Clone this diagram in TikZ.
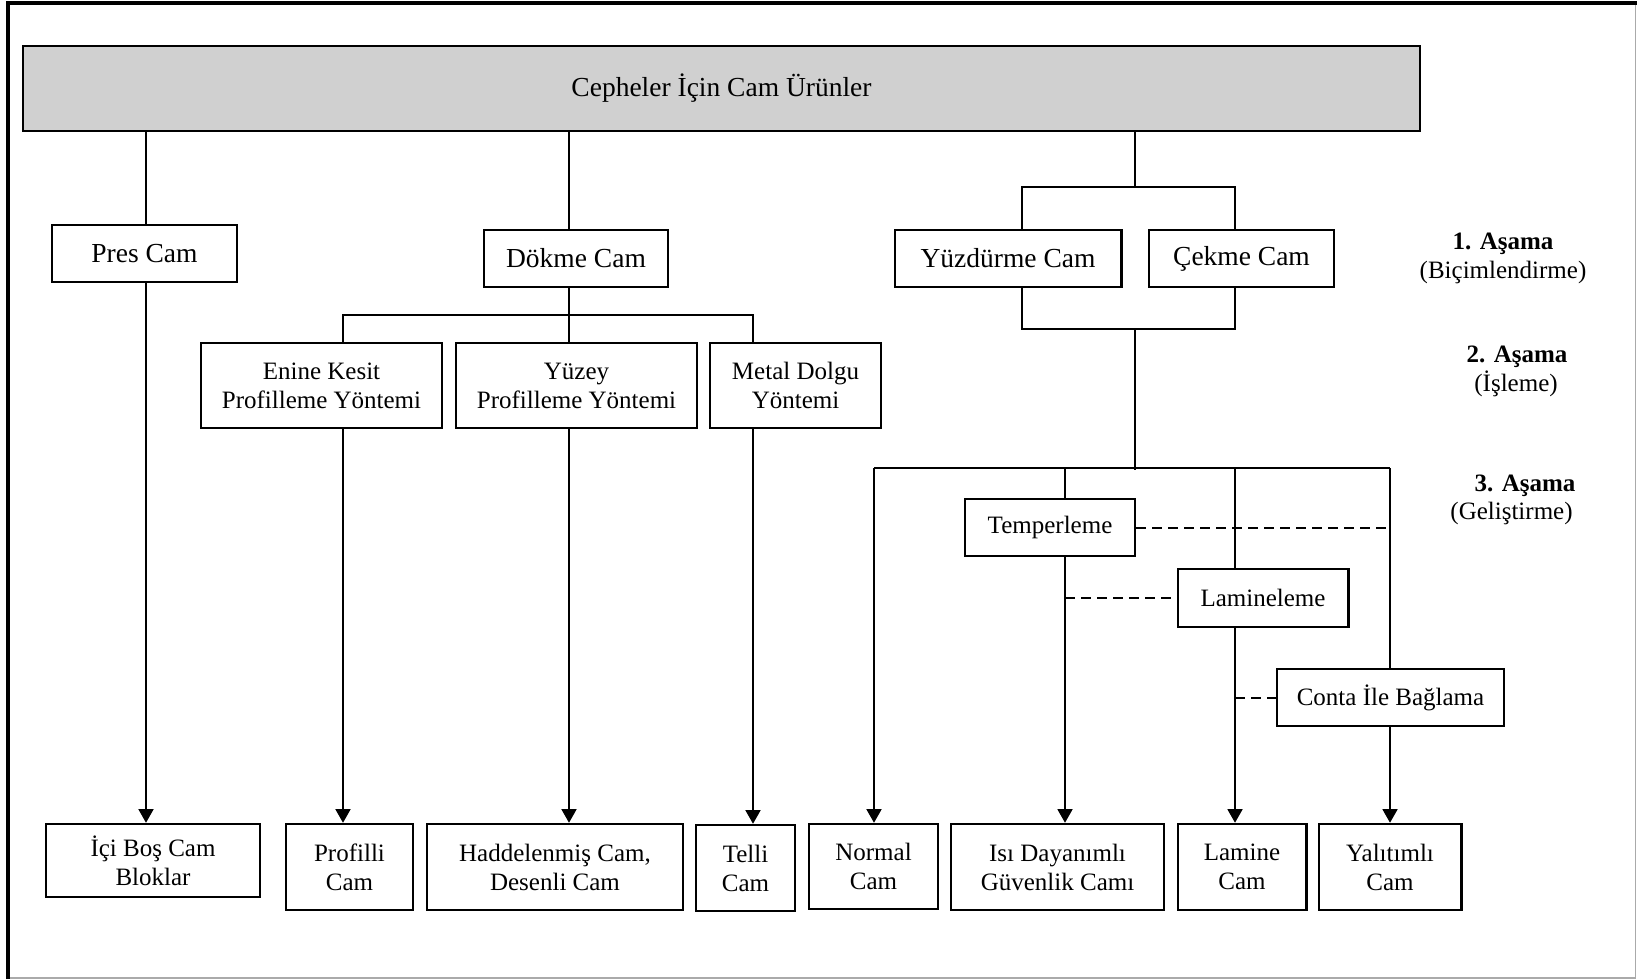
\documentclass[tikz,border=0pt]{standalone}
\usepackage{fontspec}
\setmainfont{Liberation Serif}
\usetikzlibrary{arrows.meta}
\definecolor{titlegray}{RGB}{208,208,208}
\definecolor{framegray}{RGB}{170,170,170}
\newcommand\bigtxt{\fontsize{13.75}{16}\selectfont}
\newcommand\smalltxt{\fontsize{12.5}{14.5}\selectfont}
\begin{document}
\begin{tikzpicture}[x=0.5pt,y=-0.5pt,
  box/.style={draw, line width=1.25pt, inner sep=0pt, align=center, font=\smalltxt},
  bigbox/.style={box, font=\bigtxt},
  conn/.style={line width=0.8pt},
  arr/.style={conn, -{Triangle[length=6.8pt,width=7.5pt]}},
  dsh/.style={line width=1pt, dash pattern=on 5pt off 3pt},
  stage/.style={anchor=base, inner sep=0pt, font=\smalltxt}]
\useasboundingbox (0,0) rectangle (1637,979);

% outer frame
\draw[framegray, line width=0.8pt] (1635.5,3) -- (1635.5,978) -- (8,978);
\draw[line width=1.8pt] (8,979) -- (8,3) -- (1637,3);

% title
\node[bigbox, fill=titlegray, minimum width=698.5pt, minimum height=42.5pt] (title) at (721.5,88.5) {Cepheler İçin Cam Ürünler};

% stage 1: forming
\node[bigbox, minimum width=92.5pt, minimum height=28.5pt] (pres) at (144.5,253.5) {Pres Cam};
\node[bigbox, minimum width=92pt, minimum height=28.5pt] (dokme) at (576,258.5) {Dökme Cam};
\node[bigbox, minimum width=113.25pt, minimum height=28.5pt] (yuzdurme) at (1008,258.5) {Yüzdürme Cam};
\node[bigbox, minimum width=92.5pt, minimum height=28.5pt] (cekme) at (1241.5,258.5) {Çekme Cam};

% stage 2: processing
\node[box, minimum width=120.5pt, minimum height=42.5pt] (enine) at (321.5,385.5) {Enine Kesit\\Profilleme Yöntemi};
\node[box, minimum width=120.5pt, minimum height=42.5pt] (yuzey) at (576.5,385.5) {Yüzey\\Profilleme Yöntemi};
\node[box, minimum width=85.5pt, minimum height=42.5pt] (metal) at (795.5,385.5) {Metal Dolgu\\Yöntemi};

% stage 3: development
\node[box, minimum width=85pt, minimum height=28.5pt] (temper) at (1050,527.5) {Temperleme};
\node[box, minimum width=85.25pt, minimum height=29pt] (lamineleme) at (1263,598) {Lamineleme};
\node[box, minimum width=113.5pt, minimum height=28.5pt] (conta) at (1390.5,697.5) {Conta İle Bağlama};

% products
\node[box, minimum width=107pt, minimum height=36.5pt] (icibos) at (153,860.5) {İçi Boş Cam\\Bloklar};
\node[box, minimum width=63.5pt, minimum height=43pt] (profilli) at (349.5,867) {Profilli\\Cam};
\node[box, minimum width=128pt, minimum height=43pt] (hadde) at (555,867) {Haddelenmiş Cam,\\Desenli Cam};
\node[box, minimum width=49.5pt, minimum height=43pt] (telli) at (745.5,868) {Telli\\Cam};
\node[box, minimum width=64.5pt, minimum height=42.5pt] (normal) at (873.5,866.5) {Normal\\Cam};
\node[box, minimum width=106.5pt, minimum height=43pt] (isi) at (1057.5,867) {Isı Dayanımlı\\Güvenlik Camı};
\node[box, minimum width=64.25pt, minimum height=43pt] (lamine) at (1242,867) {Lamine\\Cam};
\node[box, minimum width=71.25pt, minimum height=43pt] (yalitimli) at (1390,867) {Yalıtımlı\\Cam};

% stage labels
\node[stage, font=\smalltxt\bfseries] (s1) at (1503,249) {1. Aşama};
\node[stage] (s1b) at (1503,278) {(Biçimlendirme)};
\node[stage, font=\smalltxt\bfseries] (s2) at (1517,362) {2. Aşama};
\node[stage] (s2b) at (1516,391) {(İşleme)};
\node[stage, font=\smalltxt\bfseries] (s3) at (1525,491) {3. Aşama};
\node[stage] (s3b) at (1511.5,519) {(Geliştirme)};

% junction points
\coordinate (pcol) at (146,131);
\coordinate (dsplit) at (569,315);
\coordinate (eS) at (343,315);
\coordinate (mS) at (753,315);
\coordinate (fs) at (1135,187);
\coordinate (fl) at (1022,187);
\coordinate (fr) at (1235,187);
\coordinate (bl) at (1022,329);
\coordinate (br) at (1235,329);
\coordinate (bm) at (1135,329);
\coordinate (h3) at (1135,470);
\coordinate (hL) at (874,468);
\coordinate (hR) at (1390,468);
\coordinate (tcol) at (1065,468);
\coordinate (lcol) at (1235,468);

% pressed glass
\draw[conn] (title.south -| pcol) -- (pres.north -| pcol);
\draw[arr] (pres.south -| pcol) -- (icibos.north -| pcol);

% cast glass
\draw[conn] (title.south -| dsplit) -- (dokme.north -| dsplit);
\draw[conn] (dokme.south -| dsplit) -- (dsplit);
\draw[conn] (enine.north -| eS) -- (eS) -- (mS) -- (metal.north -| mS);
\draw[conn] (dsplit) -- (yuzey.north -| dsplit);
\draw[arr] (enine.south -| eS) -- (profilli.north -| eS);
\draw[arr] (yuzey.south -| dsplit) -- (hadde.north -| dsplit);
\draw[arr] (metal.south -| mS) -- (telli.north -| mS);

% float and drawn glass
\draw[conn] (title.south -| fs) -- (fs);
\draw[conn] (yuzdurme.north -| fl) -- (fl) -- (fr) -- (cekme.north -| fr);
\draw[conn] (yuzdurme.south -| bl) -- (bl) -- (br) -- (cekme.south -| br);
\draw[conn] (bm) -- (h3);
\draw[conn] (hL) -- (hR);

% development branches
\draw[arr] (hL) -- (normal.north -| hL);
\draw[conn] (tcol) -- (temper.north -| tcol);
\draw[arr] (temper.south -| tcol) -- (isi.north -| tcol);
\draw[conn] (lcol) -- (lamineleme.north -| lcol);
\draw[arr] (lamineleme.south -| lcol) -- (lamine.north -| lcol);
\draw[conn] (hR) -- (conta.north -| hR);
\draw[arr] (conta.south -| hR) -- (yalitimli.north -| hR);

% optional process links
\draw[dsh] (temper.east) -- (temper.east -| hR);
\draw[dsh] (lamineleme.west -| tcol) -- (lamineleme.west);
\draw[dsh] (conta.west -| lcol) -- (conta.west);
\end{tikzpicture}
\end{document}
